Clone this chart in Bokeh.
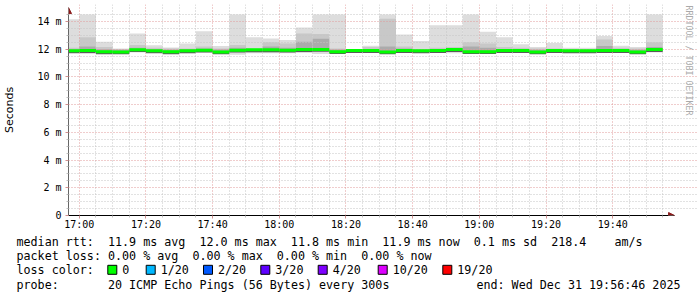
import re
import numpy as np
import pandas as pd
from bokeh.plotting import figure
from bokeh.layouts import column
from bokeh.models import (Range1d, FixedTicker, DatetimeTickFormatter, Label, Arrow,
                          NormalHead, CustomJSTickFormatter)
from bokeh.core.properties import value
from bokeh.embed import file_html
from bokeh.resources import INLINE

# ---------------- data (milliseconds) ----------------
bin_end = pd.date_range("2025-12-31 17:00", "2025-12-31 19:55", freq="5min")  # 36 five-minute bins
max_ms = [14.15, 14.5, 12.53, 12.05, 13.13, 12.29, 12.12, 12.41, 13.30, 12.22,
          14.5, 12.85, 12.77, 12.66, 13.57, 14.5, 14.5, 12.02, 12.24, 14.5,
          13.06, 12.58, 13.73, 13.73, 14.5, 13.25, 12.85, 12.35, 12.15, 12.45,
          12.10, 12.10, 12.95, 12.25, 12.15, 14.5]
hi2_ms = [12.10, 12.85, 12.15, 12.00, 12.30, 12.10, 12.05, 12.05, 12.20, 12.05,
          12.30, 12.05, 12.50, 12.40, 13.13, 13.10, 12.05, 11.98, 12.15, 14.20,
          12.20, 12.00, 12.10, 12.15, 12.50, 12.40, 12.15, 12.10, 12.05, 12.05,
          12.00, 12.00, 12.70, 12.10, 12.05, 12.50]
hi3_ms = [12.00, 12.20, 12.00, 11.95, 12.10, 12.00, 11.95, 12.00, 12.05, 11.98,
          12.10, 12.00, 12.20, 12.10, 12.53, 12.75, 11.98, 11.95, 12.00, 12.20,
          12.05, 11.95, 12.00, 12.05, 12.20, 12.10, 12.00, 12.00, 11.95, 11.98,
          11.95, 11.95, 12.22, 12.00, 11.95, 12.15]
median_ms = [11.88, 11.90, 11.81, 11.80, 11.96, 11.88, 11.81, 11.88, 11.92, 11.80,
             11.92, 11.95, 11.95, 11.92, 11.97, 11.98, 11.82, 11.90, 11.90, 11.80,
             11.90, 11.88, 11.90, 11.97, 11.82, 11.82, 11.90, 11.90, 11.80, 11.90,
             11.88, 11.88, 11.90, 11.90, 11.80, 11.97]
min_ms = [11.75, 11.65, 11.70, 11.70, 11.75, 11.75, 11.70, 11.70, 11.75, 11.72,
          11.60, 11.70, 11.70, 11.70, 11.72, 11.65, 11.70, 11.75, 11.75, 11.72,
          11.75, 11.80, 11.72, 11.70, 11.65, 11.70, 11.72, 11.75, 11.72, 11.78,
          11.82, 11.80, 11.75, 11.72, 11.70, 11.75]

y_ticks = [0, 2, 4, 6, 8, 10, 12, 14]
loss_labels = ["0", "1/20", "2/20", "3/20", "4/20", "10/20", "19/20"]
loss_colors = ["#00ff00", "#00b8ff", "#0059ff", "#5e00ff", "#7e00ff", "#dd00ff", "#ff0000"]
stats_rtt = "median rtt:  11.9 ms avg  12.0 ms max  11.8 ms min  11.9 ms now  0.1 ms sd  218.4    am/s"
stats_loss = "packet loss: 0.00 % avg  0.00 % max  0.00 % min  0.00 % now"
probe_txt = "probe:       20 ICMP Echo Pings (56 Bytes) every 300s"
end_txt = "end: Wed Dec 31 19:56:46 2025"
watermark = "RRDTOOL / TOBI OETIKER"

t_start = pd.Timestamp("2025-12-31 16:56:46")
t_end = pd.Timestamp("2025-12-31 19:56:46")
y_top = 14.5

def ms(t):
    return t.value / 1e6

# geometry: data area 66..668 x 14..215 px; frame extended for arrows/watermark
PLOT_L, PLOT_R, PLOT_T, PLOT_B, CANVAS_W = 66, 668, 14, 215, 697
FRAME_T = 4
span_ms = ms(t_end) - ms(t_start)
x_frame_end = ms(t_start) + span_ms * (CANVAS_W - PLOT_L) / (PLOT_R - PLOT_L)
y_frame_top = y_top * (PLOT_B - FRAME_T) / (PLOT_B - PLOT_T)

left = bin_end - pd.Timedelta(minutes=5)
right = bin_end
med = np.array(median_ms)

# ---------------- main chart ----------------
p = figure(width=697, height=233, x_axis_type="datetime",
           x_range=Range1d(ms(t_start), x_frame_end), y_range=Range1d(0, y_frame_top),
           toolbar_location=None, output_backend="svg",
           min_border_left=PLOT_L, min_border_right=0, min_border_top=FRAME_T, min_border_bottom=18,
           outline_line_color=None, background_fill_color="white", border_fill_color="white")
p.frame_align = False

# smoke
p.quad(left=left, right=right, bottom=min_ms, top=max_ms, fill_color="#dddddd", line_color=None, level="image")
p.quad(left=left, right=right, bottom=med - 0.1, top=hi2_ms, fill_color="#c8c8c8", line_color=None, level="image")
p.quad(left=left, right=right, bottom=med - 0.12, top=hi3_ms, fill_color="#ababab", line_color=None, level="image")
p.quad(left=left, right=right, bottom=med - 0.17, top=med, fill_color="#5a5a5a", line_color=None, level="image")
# median
p.segment(x0=left, x1=right, y0=median_ms, y1=median_ms, line_color="#00ff00", line_width=3, line_cap="butt")

# ticks
major_x = [ms(t) for t in pd.date_range("2025-12-31 17:00", "2025-12-31 19:40", freq="20min")]
minor_x = [ms(t) for t in pd.date_range("2025-12-31 17:00", "2025-12-31 19:55", freq="5min") if ms(t) not in major_x]
p.xaxis.ticker = FixedTicker(ticks=major_x, minor_ticks=minor_x)
p.xaxis.formatter = DatetimeTickFormatter(minutes="%H:%M", hourmin="%H:%M", hours="%H:%M",
                                          minsec="%H:%M", days="%H:%M")
minor_y = [v / 2 for v in range(0, 30) if v % 4 != 0]
p.yaxis.ticker = FixedTicker(ticks=y_ticks, minor_ticks=minor_y)
p.yaxis.formatter = CustomJSTickFormatter(code="return tick == 0 ? '0' : tick + ' m';")

for ax in (p.xaxis[0], p.yaxis[0]):
    ax.major_label_text_font = "DejaVu Sans Mono"
    ax.major_label_text_font_size = "10px"
    ax.major_label_text_color = "#000000"
    ax.major_tick_in = 0
    ax.major_tick_out = 3
    ax.minor_tick_in = 0
    ax.minor_tick_out = 2
    ax.major_tick_line_color = "#d09090"
    ax.minor_tick_line_color = "#c0c0c0"
p.xaxis.bounds = (ms(t_start), ms(t_end))
p.yaxis.bounds = (0, y_top)
p.xaxis.axis_line_color = "#000000"
p.yaxis.axis_line_color = "#666666"
p.xaxis.major_label_standoff = 0
p.yaxis.major_label_standoff = 4
p.yaxis.axis_label = "Seconds"
p.yaxis.axis_label_text_font = "DejaVu Sans"
p.yaxis.axis_label_text_font_size = "11px"
p.yaxis.axis_label_text_font_style = "normal"
p.yaxis.axis_label_text_color = "#000000"
p.yaxis.axis_label_standoff = 18

p.xgrid.bounds = (0, y_top)
p.ygrid.bounds = (ms(t_start), ms(t_end))
for g in (p.xgrid[0], p.ygrid[0]):
    g.grid_line_color = "#e09a9a"
    g.grid_line_dash = "1 2"
    g.minor_grid_line_color = "#c4c4c4"
    g.minor_grid_line_dash = "1 2"
    g.level = "underlay"

# axis arrows
p.add_layout(Arrow(end=NormalHead(size=6, fill_color="#8b1a1a", line_color="#8b1a1a", line_width=1),
                   x_start=ms(t_start), y_start=y_top, x_end=ms(t_start), y_end=15.0,
                   line_color="#666666", line_width=1))
p.add_layout(Arrow(end=NormalHead(size=6, fill_color="#8b1a1a", line_color="#8b1a1a", line_width=1),
                   x_start=ms(t_end), y_start=0, x_end=ms(t_end) + 108000, y_end=0,
                   line_color="#000000", line_width=1))

p.add_layout(Label(x=620, y=210, x_units="screen", y_units="screen", text=watermark,
                   angle=-np.pi / 2, text_font="DejaVu Sans Mono", text_font_size="8.3px",
                   text_color="#aaaaaa", text_align="left", text_baseline="middle"))

# ---------------- legend block ----------------
leg = figure(width=697, height=64, x_range=Range1d(0, 697), y_range=Range1d(297, 233),
             x_axis_type=None, y_axis_type=None, toolbar_location=None, output_backend="svg",
             min_border=0, outline_line_color=None, background_fill_color="white",
             border_fill_color="white")
leg.frame_align = False
leg.grid.visible = False
font = value("DejaVu Sans Mono")
CH = 7.035
X0 = 16

def pieces(line, y):
    xs, ys, ts = [], [], []
    for m in re.finditer(r"\S+(?: \S+)*", line):
        xs.append(X0 + m.start() * CH)
        ys.append(y)
        ts.append(m.group(0))
    return xs, ys, ts

tx, ty, tt = [], [], []
for line, y in ((stats_rtt, 241), (stats_loss, 255), ("loss color:", 269.3), (probe_txt, 284)):
    a, b, c = pieces(line, y)
    tx += a; ty += b; tt += c
leg.text(x=tx, y=ty, text=tt, text_font=font, text_font_size="11.7px",
         text_baseline="middle", text_align="left", text_color="#000000")
leg.text(x=[680], y=[284], text=[end_txt], text_font=font, text_font_size="11.7px",
         text_baseline="middle", text_align="right", text_color="#000000")
box_x = [107.3, 145.7, 203.0, 260.3, 317.7, 377.7, 442.3]
leg.rect(x=[b + 4.5 for b in box_x], y=[269.3] * 7, width=9, height=9,
         fill_color=loss_colors, line_color="#000000", line_width=1)
leg.text(x=[b + 14.5 for b in box_x], y=[269.3] * 7, text=loss_labels,
         text_font=font, text_font_size="11.7px", text_baseline="middle", text_align="left",
         text_color="#000000")

layout = column(p, leg, spacing=0)
open("out.html", "w").write(file_html(layout, INLINE))
